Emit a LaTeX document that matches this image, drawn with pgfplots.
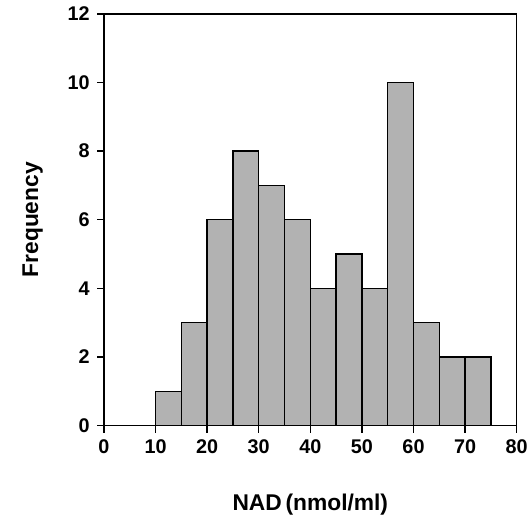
\documentclass[border=0pt]{standalone}
\usepackage{fontspec}
\setmainfont{Liberation Sans}
\usepackage{pgfplots}
\pgfplotsset{compat=1.18}

\begin{document}
\begin{tikzpicture}
\begin{axis}[
    scale only axis,
    width=417pt, height=416pt,
    xmin=0, xmax=80, ymin=0, ymax=12,
    xtick={0,10,...,80}, ytick={0,2,...,12},
    tick align=outside, tick pos=left,
    major tick length=7pt,
    axis line style={line width=1.6pt},
    every tick/.style={line width=1.4pt, black},
    ticklabel style={font=\fontsize{20}{20}\selectfont\bfseries},
    yticklabel style={xshift=-4pt},
    xticklabel style={yshift=-4pt},
    /pgf/number format/assume math mode=true,
    xlabel={NAD\,(nmol/ml)},
    ylabel={Frequency},
    label style={font=\fontsize{23}{23}\selectfont\bfseries},
    xlabel style={yshift=-33pt},
    ylabel style={yshift=18pt},
]
    % counts per 5 nmol/ml bin, last point closes the interval
    \addplot[ybar interval, fill=black!30, draw=black, line width=1.5pt]
        coordinates {(10,1) (15,3) (20,6) (25,8) (30,7) (35,6) (40,4)
                     (45,5) (50,4) (55,10) (60,3) (65,2) (70,2) (75,2)};
\end{axis}
\path (current axis.south west) ++(-105pt,-99pt) rectangle ++(531pt,529pt);
\end{tikzpicture}
\end{document}
